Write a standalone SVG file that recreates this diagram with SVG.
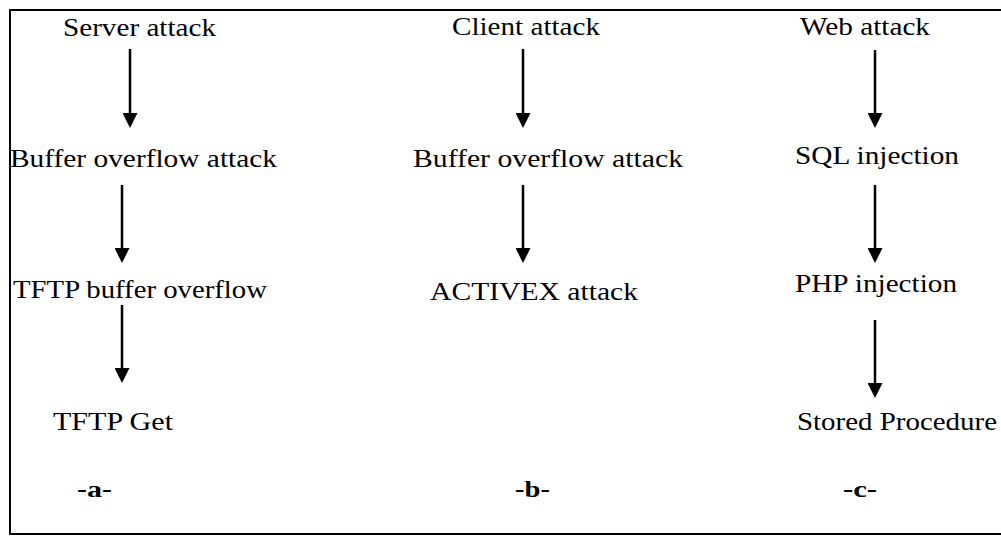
<svg xmlns="http://www.w3.org/2000/svg" width="1001" height="539" viewBox="0 0 1001 539">
  <style>
    .lbl { font-family: 'Liberation Serif', Tinos, 'Times New Roman', Times, serif; font-size: 26px; fill: #000; }
    .tag { font-family: 'Liberation Serif', Tinos, 'Times New Roman', Times, serif; font-size: 24px; font-weight: bold; fill: #000; }
    .edge { stroke: #000; stroke-width: 2.5; fill: none; marker-end: url(#head); }
  </style>
  <defs>
    <!-- solid triangular arrowhead; its base sits on the line end -->
    <marker id="head" viewBox="0 0 15 15" refX="0" refY="7.5" markerWidth="15" markerHeight="15" markerUnits="userSpaceOnUse" orient="auto">
      <path d="M0,0 L15,7.5 L0,15 Z" fill="#000"/>
    </marker>
  </defs>

  <rect x="10" y="10" width="1000" height="524" fill="#fff" stroke="#000" stroke-width="2"/>

  <!-- column a: server attacks -->
  <g id="server-attack"><text class="lbl" x="63" y="36" textLength="153" lengthAdjust="spacingAndGlyphs">Server attack</text></g>
  <g id="server-buffer-overflow"><text class="lbl" x="10" y="167" textLength="267" lengthAdjust="spacingAndGlyphs">Buffer overflow attack</text></g>
  <g id="tftp-buffer-overflow"><text class="lbl" x="13" y="298" textLength="254" lengthAdjust="spacingAndGlyphs">TFTP buffer overflow</text></g>
  <g id="tftp-get"><text class="lbl" x="53" y="430" textLength="120" lengthAdjust="spacingAndGlyphs">TFTP Get</text></g>
  <g id="label-a"><text class="tag" x="77" y="497" textLength="35" lengthAdjust="spacingAndGlyphs">-a-</text></g>

  <!-- column b: client attacks -->
  <g id="client-attack"><text class="lbl" x="452" y="35" textLength="148" lengthAdjust="spacingAndGlyphs">Client attack</text></g>
  <g id="client-buffer-overflow"><text class="lbl" x="413" y="167" textLength="270" lengthAdjust="spacingAndGlyphs">Buffer overflow attack</text></g>
  <g id="activex-attack"><text class="lbl" x="430" y="300" textLength="208" lengthAdjust="spacingAndGlyphs">ACTIVEX attack</text></g>
  <g id="label-b"><text class="tag" x="515" y="497" textLength="35" lengthAdjust="spacingAndGlyphs">-b-</text></g>

  <!-- column c: web attacks -->
  <g id="web-attack"><text class="lbl" x="800" y="35" textLength="130" lengthAdjust="spacingAndGlyphs">Web attack</text></g>
  <g id="sql-injection"><text class="lbl" x="795" y="164" textLength="164" lengthAdjust="spacingAndGlyphs">SQL injection</text></g>
  <g id="php-injection"><text class="lbl" x="795" y="292" textLength="162" lengthAdjust="spacingAndGlyphs">PHP injection</text></g>
  <g id="stored-procedure"><text class="lbl" x="797" y="430" textLength="200" lengthAdjust="spacingAndGlyphs">Stored Procedure</text></g>
  <g id="label-c"><text class="tag" x="843" y="497" textLength="34" lengthAdjust="spacingAndGlyphs">-c-</text></g>

  <!-- connectors -->
  <g id="connectors">
    <path class="edge" d="M130,49 V113"/>
    <path class="edge" d="M122,185 V248"/>
    <path class="edge" d="M122,305 V368"/>
    <path class="edge" d="M523,49 V113"/>
    <path class="edge" d="M523,185 V248"/>
    <path class="edge" d="M875,50 V113"/>
    <path class="edge" d="M875,185 V248"/>
    <path class="edge" d="M875,320 V383"/>
  </g>
</svg>
